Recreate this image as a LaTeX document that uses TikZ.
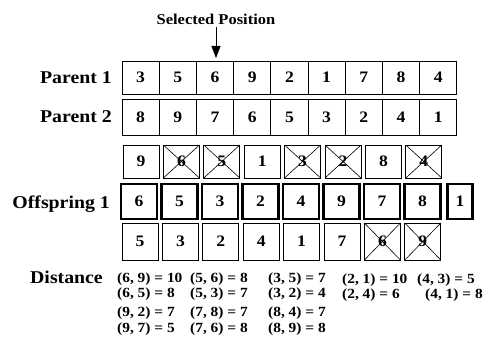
\documentclass[tikz,border=0pt]{standalone}
\usepackage{fontspec}
\setmainfont{Liberation Serif}[FakeStretch=1.1]
\usetikzlibrary{arrows.meta}
\tikzset{
  cell/.style={draw, line width=0.8pt, inner sep=0pt, outer sep=0pt, font=\fontsize{16}{16}\selectfont\bfseries},
  bold cell/.style={cell, line width=2.4pt},
  crossed/.style={path picture={\draw[line width=0.6pt] (path picture bounding box.north west) -- (path picture bounding box.south east) (path picture bounding box.south west) -- (path picture bounding box.north east);}},
  x0/.style={}, x1/.style={crossed},
  lbl/.style={font=\fontsize{18}{18}\selectfont\bfseries, inner sep=0pt, anchor=east},
  dist/.style={font=\fontsize{14}{14}\selectfont\bfseries, inner sep=0pt, anchor=west},
}
\begin{document}
\begin{tikzpicture}[x=1pt,y=-1pt]
\path[use as bounding box] (0,0) rectangle (491,358);
% Parent rows
\foreach \v [count=\i] in {3,5,6,9,2,1,7,8,4}
  \node[cell, minimum width=37.2pt, minimum height=33pt] (pa\i) at ({140.6+37.2*(\i-1)},77.5) {\v};
\foreach \v [count=\i] in {8,9,7,6,5,3,2,4,1}
  \node[cell, minimum width=37.2pt, minimum height=36pt] (pb\i) at ({140.6+37.2*(\i-1)},117.5) {\v};
% upper helper row
\foreach \v/\c [count=\i] in {9/0,6/1,5/1,1/0,3/1,2/1,8/0,4/1}
  \node[cell, x\c, minimum width=36pt, minimum height=33pt] (ra\i) at ({141+40.4*(\i-1)},161.5) {\v};
% offspring
\foreach \v [count=\i] in {6,5,3,2,4,9,7,8}
  \node[bold cell, minimum width=36pt, minimum height=35pt] (of\i) at ({139+40.5*(\i-1)},201.5) {\v};
\node[bold cell, minimum width=25pt, minimum height=35pt] (of9) at (460,201.5) {1};
% lower helper row
\foreach \v/\c [count=\i] in {5/0,3/0,2/0,4/0,1/0,7/0,6/1,9/1}
  \node[cell, x\c, minimum width=36pt, minimum height=37pt] (rb\i) at ({140+40.4*(\i-1)},241.5) {\v};
% labels
\node[lbl] (lp1) at (112,78) {Parent 1};
\node[lbl] (lp2) at (112,117) {Parent 2};
\node[lbl] (lo1) at (110,204) {Offspring 1};
\node[font=\fontsize{15}{15}\selectfont\bfseries, inner sep=0pt] (sel) at (216,19) {Selected Position};
\draw[line width=0.8pt, -{Triangle[width=9pt,length=12pt]}, shorten >=3pt] (sel.south) ++(0,3) coordinate (arrs) (arrs) -- (arrs |- pa3.north);
\node[lbl, anchor=west] (ldist) at (30,277) {Distance};
% distances
\node[dist] (d11) at (117,279) {(6, 9) = 10};
\node[dist] (d12) at (190,279) {(5, 6) = 8};
\node[dist] (d13) at (268,279) {(3, 5) = 7};
\node[dist] (d14) at (342,280) {(2, 1) = 10};
\node[dist] (d15) at (417,280) {(4, 3) = 5};
\node[dist] (d21) at (117,294) {(6, 5) = 8};
\node[dist] (d22) at (190,294) {(5, 3) = 7};
\node[dist] (d23) at (268,294) {(3, 2) = 4};
\node[dist] (d24) at (342,295) {(2, 4) = 6};
\node[dist] (d25) at (425,295) {(4, 1) = 8};
\node[dist] (d31) at (117,313) {(9, 2) = 7};
\node[dist] (d32) at (190,313) {(7, 8) = 7};
\node[dist] (d33) at (268,313) {(8, 4) = 7};
\node[dist] (d41) at (117,329) {(9, 7) = 5};
\node[dist] (d42) at (190,329) {(7, 6) = 8};
\node[dist] (d43) at (268,329) {(8, 9) = 8};
\end{tikzpicture}
\end{document}
